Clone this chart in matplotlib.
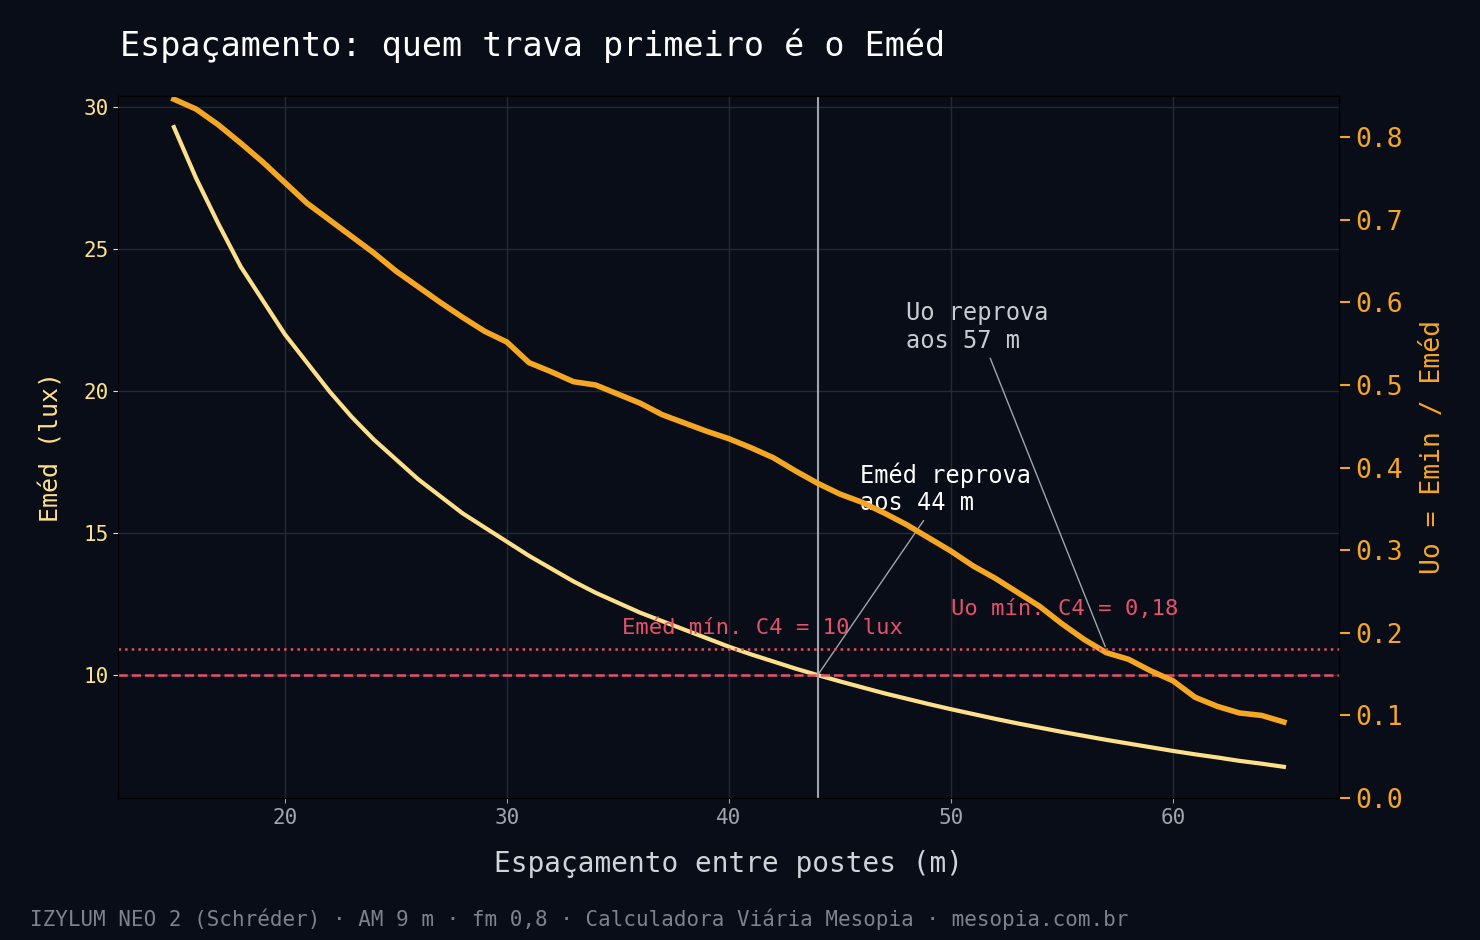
import matplotlib
matplotlib.use("Agg")
import matplotlib.pyplot as plt
import numpy as np

plt.rcParams['font.family'] = ['DejaVu Sans Mono']

spacing = list(range(15, 66))
emed = [29.3, 27.5, 25.9, 24.4, 23.2, 22.0, 21.0, 20.0, 19.1, 18.3, 17.6, 16.9, 16.3, 15.7,
        15.2, 14.7, 14.2, 13.75, 13.3, 12.9, 12.55, 12.2, 11.9, 11.6, 11.3, 11.0, 10.73,
        10.48, 10.23, 10.0, 9.78, 9.57, 9.36, 9.17, 8.98, 8.8, 8.63, 8.46, 8.3, 8.15, 8.0,
        7.86, 7.72, 7.59, 7.46, 7.33, 7.21, 7.1, 6.98, 6.88, 6.77]
uo = [0.846, 0.834, 0.815, 0.793, 0.770, 0.745, 0.720, 0.700, 0.680, 0.660, 0.638, 0.619,
      0.600, 0.582, 0.565, 0.552, 0.527, 0.516, 0.504, 0.500, 0.489, 0.478, 0.464, 0.454,
      0.444, 0.435, 0.424, 0.412, 0.396, 0.381, 0.368, 0.358, 0.345, 0.331, 0.315, 0.299,
      0.281, 0.266, 0.249, 0.232, 0.211, 0.192, 0.176, 0.168, 0.154, 0.142, 0.122, 0.111,
      0.103, 0.100, 0.092]
emed_min = 10
uo_min = 0.18
fail_emed = 44
fail_uo = 57

BG = '#080d17'
YEL = '#ffe08a'
ORG = '#f5a623'
RED = '#e5506a'

fig, ax = plt.subplots(figsize=(14.8, 9.4), dpi=100)
fig.patch.set_facecolor(BG)
ax.set_facecolor(BG)
fig.subplots_adjust(left=0.08, right=0.905, top=0.898, bottom=0.151)

ax.plot(spacing, emed, color=YEL, lw=3)
ax.axhline(emed_min, color=RED, ls='--', lw=1.8)
ax.axvline(fail_emed, color='#a0a4ab', lw=1.5)
ax.set_xlim(12.5, 67.5)
ax.set_ylim(5.67, 30.4)
ax.set_yticks([10, 15, 20, 25, 30])
ax.grid(True, color='#232a36', lw=1)
ax.tick_params(axis='y', colors=YEL, labelsize=15)
ax.tick_params(axis='x', colors='#a0a4ab', labelsize=15)
for s in ax.spines.values():
    s.set_color('black')
ax.set_ylabel('Eméd (lux)', color=YEL, fontsize=18, labelpad=14)
ax.set_xlabel('Espaçamento entre postes (m)', color='#d0d3d8', fontsize=20, labelpad=16)
ax.text(35.2, 11.45, 'Eméd mín. C4 = 10 lux', color=RED, fontsize=16)
ax.annotate('Eméd reprova\naos 44 m', xy=(fail_emed, emed_min), xytext=(45.9, 15.8),
            color='white', fontsize=17,
            arrowprops=dict(arrowstyle='-', color='#a0a4ab', lw=1))

ax2 = ax.twinx()
ax2.plot(spacing, uo, color=ORG, lw=4)
ax2.axhline(uo_min, color=RED, ls=':', lw=1.8)
ax2.set_ylim(0, 0.85)
ax2.set_yticks(np.arange(0, 0.81, 0.1))
ax2.tick_params(axis='y', colors=ORG, labelsize=19, length=8, width=1.5)
for s in ax2.spines.values():
    s.set_color('black')
ax2.set_ylabel('Uo = Emin / Eméd', color=ORG, fontsize=19, labelpad=12)
ax2.text(50, 0.222, 'Uo mín. C4 = 0,18', color=RED, fontsize=16)
ax2.annotate('Uo reprova\naos 57 m', xy=(fail_uo, uo_min), xytext=(48, 0.545),
             color='#c8ccd2', fontsize=17,
             arrowprops=dict(arrowstyle='-', color='#a0a4ab', lw=1))

fig.text(0.081, 0.94, 'Espaçamento: quem trava primeiro é o Eméd', color='white', fontsize=24)
fig.text(0.02, 0.015, 'IZYLUM NEO 2 (Schréder) · AM 9 m · fm 0,8 · Calculadora Viária Mesopia · mesopia.com.br',
         color='#7d828b', fontsize=15)

fig.savefig('out.png', dpi=100, facecolor=BG)
